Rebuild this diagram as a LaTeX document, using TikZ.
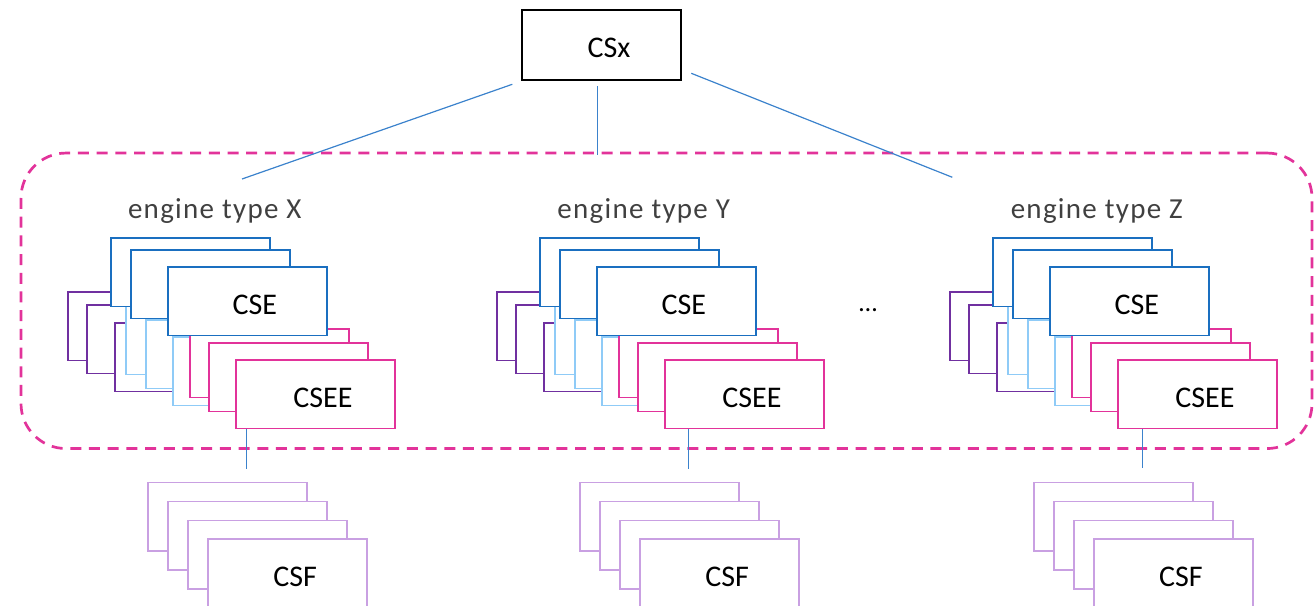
\documentclass[tikz,border=0pt]{standalone}
\usepackage{fontspec}
\setmainfont{Carlito}
\newfontfamily\grouplabelfont[LetterSpace=4.5]{Carlito}

\definecolor{cblue}{HTML}{1A6FC0}
\definecolor{clblue}{HTML}{8FCBF7}
\definecolor{cpurple}{HTML}{7030A0}
\definecolor{cpink}{HTML}{E2339A}
\definecolor{clilac}{HTML}{C9A0E2}
\definecolor{clink}{HTML}{3B82CC}
\definecolor{cgrey}{HTML}{404040}

\tikzset{
  box/.style={rectangle, draw, fill=white, line width=1.8pt,
    minimum width=159pt, minimum height=68.5pt, inner sep=0pt,
    anchor=north west, font=\fontsize{30}{36}\selectfont},
  txt/.style={text height=26pt, text depth=0pt,
    execute at begin node=\hspace*{15pt}},
  grouplabel/.style={anchor=base, inner sep=0pt, text=cgrey,
    font=\grouplabelfont\fontsize{29}{34}\selectfont},
  link/.style={draw=clink, line width=1.2pt},
  frame/.style={draw=cpink, line width=2.7pt, dash pattern=on 11pt off 7.7pt,
    rounded corners=45pt, minimum width=1291pt, minimum height=295.5pt,
    inner sep=0pt},
}

% one engine type: purple, light blue, pink (CSEE) and blue (CSE) stacks
\newcommand\enginegroup[3]{%
  \begin{scope}[xshift=#2pt]
    \node[grouplabel] (#1-lab) at (214.7,218.5) {engine type #3};
    \node[box, draw=cpurple] (#1-p1) at (67,291) {};
    \node[box, draw=cpurple] (#1-p2) at (86,304) {};
    \node[box, draw=cpurple] (#1-p3) at (114,322) {};
    \node[box, draw=clblue] (#1-l1) at (125,305) {};
    \node[box, draw=clblue] (#1-l2) at (145,319) {};
    \node[box, draw=clblue] (#1-l3) at (172,336) {};
    \node[box, draw=cpink] (#1-k1) at (189,328) {};
    \node[box, draw=cpink] (#1-k2) at (208,342) {};
    \node[box, draw=cpink, txt] (#1-k3) at (235,359) {CSEE};
    \node[box, draw=cblue] (#1-b1) at (110,237) {};
    \node[box, draw=cblue] (#1-b2) at (130,249) {};
    \node[box, draw=cblue, txt] (#1-b3) at (167,266) {CSE};
  \end{scope}}

% one stack of CSF boxes
\newcommand\csfstack[2]{%
  \begin{scope}[xshift=#2pt]
    \node[box, draw=clilac] (#1-f1) at (147.3,481.5) {};
    \node[box, draw=clilac] (#1-f2) at (167.3,500.5) {};
    \node[box, draw=clilac] (#1-f3) at (187.3,519.5) {};
    \node[box, draw=clilac, txt] (#1-f4) at (207.3,538.3) {CSF};
  \end{scope}}

\begin{document}
\begin{tikzpicture}[x=1pt, y=-1pt]
  \useasboundingbox (0,0) rectangle (1314,605);

  % dashed frame around the engine types
  \node[frame] (frame) at (666.5,300.8) {};

  % top box
  \node[box, draw=black, minimum height=70pt, txt] (csx) at (521,9) {CSx};

  % engine types
  \enginegroup{X}{0}{X}
  \enginegroup{Y}{429}{Y}
  \enginegroup{Z}{882}{Z}

  \node[anchor=base, inner sep=0pt, font=\fontsize{26}{30}\selectfont] (more) at (868,311) {…};

  % CSF stacks
  \csfstack{FX}{0}
  \csfstack{FY}{432}
  \csfstack{FZ}{885.7}

  % links from the top box
  \coordinate (csxL) at (512.3,84.3);
  \coordinate (csxM) at (597.7,86);
  \coordinate (csxR) at (691.3,73.3);
  \coordinate (tX) at (242,179);
  \coordinate (tY) at (597.7,155);
  \coordinate (tZ) at (952.3,177.3);
  \draw[link] (csxL) -- (tX);
  \draw[link] (csxM) -- (tY);
  \draw[link] (csxR) -- (tZ);

  % links below each CSEE stack
  \coordinate (dX) at (246.7,469.3);
  \coordinate (dY) at (688.7,469.3);
  \coordinate (dZ) at (1142.5,468);
  \draw[link] (X-k3.south -| dX) -- (dX);
  \draw[link] (Y-k3.south -| dY) -- (dY);
  \draw[link] (Z-k3.south -| dZ) -- (dZ);
\end{tikzpicture}
\end{document}
